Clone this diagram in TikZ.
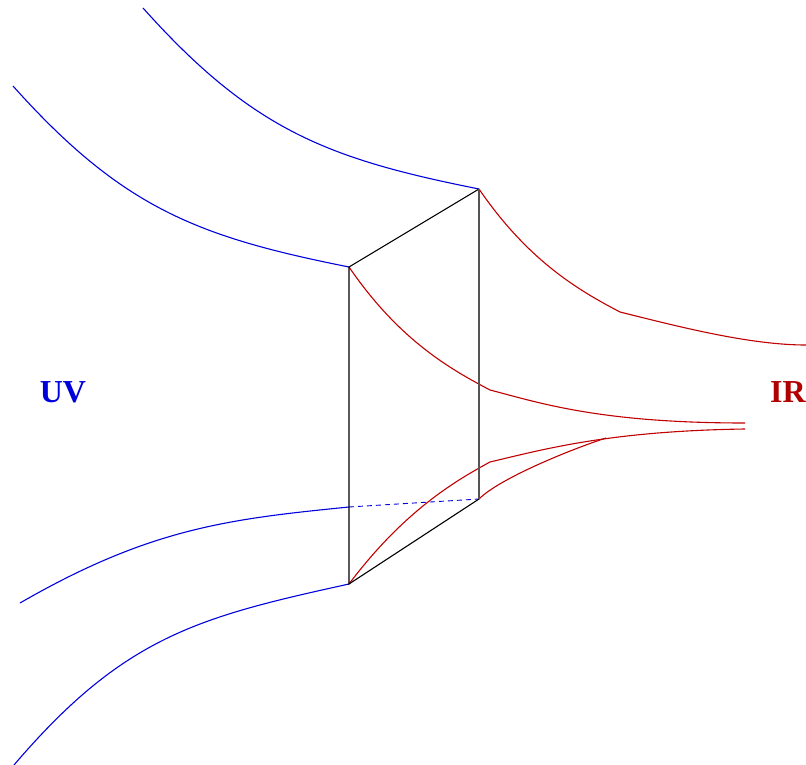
\documentclass[tikz,border=0pt]{standalone}
\usepackage{fontspec}
\setmainfont{Liberation Serif}
\definecolor{azul}{HTML}{0000DD}
\definecolor{rojo}{HTML}{C00000}
\definecolor{rotulo}{HTML}{B00000}
\definecolor{gris}{HTML}{555555}
\begin{document}
\begin{tikzpicture}[x=1pt,y=-1pt,
    curvauv/.style={azul,line width=1.1pt},
    curvair/.style={rojo,line width=1.1pt},
    arista/.style={black,line width=1.1pt},
    rotulo/.style={font=\fontsize{32}{36}\selectfont\bfseries}]
  \useasboundingbox (0,0) rectangle (806,765);
  % esquinas de la placa
  \coordinate (a) at (349,267); \coordinate (b) at (479,189);
  \coordinate (c) at (479,499); \coordinate (d) at (349,584);
  \coordinate (m) at (349,507);
  \coordinate (k1) at (620,312); \coordinate (k2) at (490,390); \coordinate (k3) at (490,462);
  % lado UV
  \draw[curvauv] (143,8) .. controls (253,131) and (329,159) .. (b);
  \draw[curvauv] (13,86) .. controls (123,209) and (199,237) .. (a);
  \draw[curvauv] (20,603) .. controls (150,528) and (229,519) .. (m);
  \draw[curvauv,dash pattern=on 5pt off 4pt,line width=0.9pt] (m) -- (c);
  \draw[curvauv] (14,765) .. controls (124,636) and (199,617) .. (d);
  % lado IR
  \draw[curvair] (b) .. controls (529,262) and (580,291) .. (k1)
                     .. controls (680,327) and (750,345) .. (806,345);
  \draw[curvair] (a) .. controls (399,340) and (450,369) .. (k2)
                     .. controls (540,403) and (600,423) .. (745,423);
  \draw[curvair] (d) .. controls (404,511) and (455,481) .. (k3)
                     .. controls (545,449) and (610,431) .. (745,429);
  \draw[curvair] (c) .. controls (500,478) and (572,449) .. (606,438);
  % placa
  \draw[arista] (b) -- (a) -- (d) -- (c);
  \draw[gris,line width=2pt] (b) -- (c);
  \node[rotulo,text=azul] (uv) at (63,392) {UV};
  \node[rotulo,text=rotulo] (ir) at (788,392) {IR};
\end{tikzpicture}
\end{document}
